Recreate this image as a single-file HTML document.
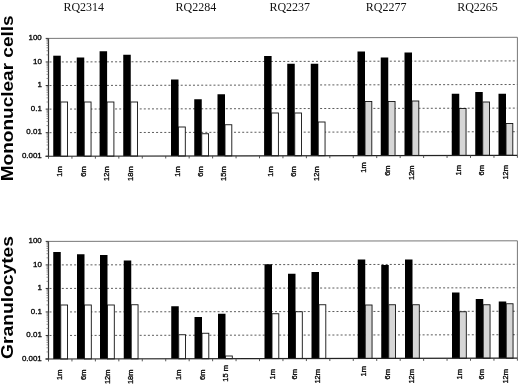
<!DOCTYPE html>
<html lang="en"><head><meta charset="utf-8"><title>Chart</title>
<style>
html,body{margin:0;padding:0;background:#fff}
body{width:520px;height:384px;overflow:hidden}
svg{display:block}
.t{font-family:"Liberation Serif",serif;font-size:12px;fill:#111}
.a{font-family:"Liberation Sans",sans-serif;font-size:7.5px;fill:#000;stroke:#000;stroke-width:0.3px}
.y{font-family:"Liberation Sans",sans-serif;font-weight:bold;font-size:16.5px;fill:#000}
</style></head><body>
<svg width="520" height="384" viewBox="0 0 520 384">
<rect width="520" height="384" fill="#fff"/>
<text class="t" x="83.8" y="10.5" text-anchor="middle">RQ2314</text>
<text class="t" x="195.9" y="10.5" text-anchor="middle">RQ2284</text>
<text class="t" x="289.8" y="10.5" text-anchor="middle">RQ2237</text>
<text class="t" x="386.1" y="10.5" text-anchor="middle">RQ2277</text>
<text class="t" x="477.5" y="10.5" text-anchor="middle">RQ2265</text>
<line x1="49.5" y1="61.97" x2="517.4" y2="60.90" stroke="#4a4a4a" stroke-width="0.9" stroke-dasharray="2 2.1"/>
<line x1="49.5" y1="85.54" x2="517.4" y2="84.50" stroke="#4a4a4a" stroke-width="0.9" stroke-dasharray="2 2.1"/>
<line x1="49.5" y1="109.11" x2="517.4" y2="108.10" stroke="#4a4a4a" stroke-width="0.9" stroke-dasharray="2 2.1"/>
<line x1="49.5" y1="132.68" x2="517.4" y2="131.70" stroke="#4a4a4a" stroke-width="0.9" stroke-dasharray="2 2.1"/>
<polyline points="48.5,38.4 517.4,37.3 517.4,155.3" fill="none" stroke="#777" stroke-width="1"/>
<rect x="53.25" y="55.70" width="7.5" height="100.53" fill="#000"/>
<rect x="60.75" y="102.00" width="6.8" height="54.23" fill="#fff" stroke="#111" stroke-width="0.9"/>
<rect x="76.75" y="57.50" width="7.5" height="98.68" fill="#000"/>
<rect x="84.25" y="102.00" width="6.8" height="54.18" fill="#fff" stroke="#111" stroke-width="0.9"/>
<rect x="99.60" y="51.25" width="7.5" height="104.88" fill="#000"/>
<rect x="107.10" y="102.00" width="6.8" height="54.13" fill="#fff" stroke="#111" stroke-width="0.9"/>
<rect x="123.25" y="54.75" width="7.5" height="101.33" fill="#000"/>
<rect x="130.75" y="102.00" width="6.8" height="54.08" fill="#fff" stroke="#111" stroke-width="0.9"/>
<rect x="171.00" y="79.50" width="7.5" height="76.49" fill="#000"/>
<rect x="178.50" y="127.00" width="6.8" height="28.99" fill="#fff" stroke="#111" stroke-width="0.9"/>
<rect x="194.25" y="99.25" width="7.5" height="56.69" fill="#000"/>
<rect x="201.75" y="133.75" width="6.8" height="22.19" fill="#fff" stroke="#111" stroke-width="0.9"/>
<rect x="217.50" y="94.25" width="7.5" height="61.64" fill="#000"/>
<rect x="225.00" y="124.75" width="6.8" height="31.14" fill="#fff" stroke="#111" stroke-width="0.9"/>
<rect x="264.10" y="56.00" width="7.5" height="99.80" fill="#000"/>
<rect x="271.60" y="113.00" width="6.8" height="42.80" fill="#fff" stroke="#111" stroke-width="0.9"/>
<rect x="287.25" y="63.75" width="7.5" height="92.00" fill="#000"/>
<rect x="294.75" y="113.00" width="6.8" height="42.75" fill="#fff" stroke="#111" stroke-width="0.9"/>
<rect x="310.75" y="63.75" width="7.5" height="91.95" fill="#000"/>
<rect x="318.25" y="122.00" width="6.8" height="33.70" fill="#fff" stroke="#111" stroke-width="0.9"/>
<rect x="357.50" y="51.50" width="7.5" height="104.11" fill="#000"/>
<rect x="365.00" y="101.50" width="6.8" height="54.11" fill="#d6d6d6" stroke="#111" stroke-width="0.9"/>
<rect x="380.75" y="57.50" width="7.5" height="98.06" fill="#000"/>
<rect x="388.25" y="101.50" width="6.8" height="54.06" fill="#d6d6d6" stroke="#111" stroke-width="0.9"/>
<rect x="404.50" y="52.50" width="7.5" height="103.01" fill="#000"/>
<rect x="412.00" y="101.00" width="6.8" height="54.51" fill="#d6d6d6" stroke="#111" stroke-width="0.9"/>
<rect x="451.75" y="93.75" width="7.5" height="61.67" fill="#000"/>
<rect x="459.25" y="108.50" width="6.8" height="46.92" fill="#d6d6d6" stroke="#111" stroke-width="0.9"/>
<rect x="475.25" y="92.00" width="7.5" height="63.37" fill="#000"/>
<rect x="482.75" y="102.00" width="6.8" height="53.37" fill="#d6d6d6" stroke="#111" stroke-width="0.9"/>
<rect x="498.50" y="93.75" width="7.5" height="61.57" fill="#000"/>
<rect x="506.00" y="123.50" width="6.8" height="31.82" fill="#d6d6d6" stroke="#111" stroke-width="0.9"/>
<line x1="45.5" y1="156.25" x2="517.4" y2="155.3" stroke="#222" stroke-width="1.2"/>
<line x1="48.5" y1="38.4" x2="48.5" y2="156.75" stroke="#333" stroke-width="1.2"/>
<line x1="45.7" y1="38.40" x2="48.5" y2="38.40" stroke="#333" stroke-width="1"/>
<text class="a" transform="translate(41.8,40.15) scale(1.06,1)" text-anchor="end">100</text>
<line x1="46.5" y1="54.87" x2="48.5" y2="54.87" stroke="#666" stroke-width="0.7"/>
<line x1="46.5" y1="50.72" x2="48.5" y2="50.72" stroke="#666" stroke-width="0.7"/>
<line x1="46.5" y1="47.78" x2="48.5" y2="47.78" stroke="#666" stroke-width="0.7"/>
<line x1="46.5" y1="45.50" x2="48.5" y2="45.50" stroke="#666" stroke-width="0.7"/>
<line x1="46.5" y1="43.63" x2="48.5" y2="43.63" stroke="#666" stroke-width="0.7"/>
<line x1="46.5" y1="42.05" x2="48.5" y2="42.05" stroke="#666" stroke-width="0.7"/>
<line x1="46.5" y1="40.68" x2="48.5" y2="40.68" stroke="#666" stroke-width="0.7"/>
<line x1="46.5" y1="39.48" x2="48.5" y2="39.48" stroke="#666" stroke-width="0.7"/>
<line x1="45.7" y1="61.97" x2="48.5" y2="61.97" stroke="#333" stroke-width="1"/>
<text class="a" transform="translate(41.8,63.72) scale(1.06,1)" text-anchor="end">10</text>
<line x1="46.5" y1="78.44" x2="48.5" y2="78.44" stroke="#666" stroke-width="0.7"/>
<line x1="46.5" y1="74.29" x2="48.5" y2="74.29" stroke="#666" stroke-width="0.7"/>
<line x1="46.5" y1="71.35" x2="48.5" y2="71.35" stroke="#666" stroke-width="0.7"/>
<line x1="46.5" y1="69.07" x2="48.5" y2="69.07" stroke="#666" stroke-width="0.7"/>
<line x1="46.5" y1="67.20" x2="48.5" y2="67.20" stroke="#666" stroke-width="0.7"/>
<line x1="46.5" y1="65.62" x2="48.5" y2="65.62" stroke="#666" stroke-width="0.7"/>
<line x1="46.5" y1="64.25" x2="48.5" y2="64.25" stroke="#666" stroke-width="0.7"/>
<line x1="46.5" y1="63.05" x2="48.5" y2="63.05" stroke="#666" stroke-width="0.7"/>
<line x1="45.7" y1="85.54" x2="48.5" y2="85.54" stroke="#333" stroke-width="1"/>
<text class="a" transform="translate(41.8,87.29) scale(1.06,1)" text-anchor="end">1</text>
<line x1="46.5" y1="102.01" x2="48.5" y2="102.01" stroke="#666" stroke-width="0.7"/>
<line x1="46.5" y1="97.86" x2="48.5" y2="97.86" stroke="#666" stroke-width="0.7"/>
<line x1="46.5" y1="94.92" x2="48.5" y2="94.92" stroke="#666" stroke-width="0.7"/>
<line x1="46.5" y1="92.64" x2="48.5" y2="92.64" stroke="#666" stroke-width="0.7"/>
<line x1="46.5" y1="90.77" x2="48.5" y2="90.77" stroke="#666" stroke-width="0.7"/>
<line x1="46.5" y1="89.19" x2="48.5" y2="89.19" stroke="#666" stroke-width="0.7"/>
<line x1="46.5" y1="87.82" x2="48.5" y2="87.82" stroke="#666" stroke-width="0.7"/>
<line x1="46.5" y1="86.62" x2="48.5" y2="86.62" stroke="#666" stroke-width="0.7"/>
<line x1="45.7" y1="109.11" x2="48.5" y2="109.11" stroke="#333" stroke-width="1"/>
<text class="a" transform="translate(41.8,110.86) scale(1.06,1)" text-anchor="end">0.1</text>
<line x1="46.5" y1="125.58" x2="48.5" y2="125.58" stroke="#666" stroke-width="0.7"/>
<line x1="46.5" y1="121.43" x2="48.5" y2="121.43" stroke="#666" stroke-width="0.7"/>
<line x1="46.5" y1="118.49" x2="48.5" y2="118.49" stroke="#666" stroke-width="0.7"/>
<line x1="46.5" y1="116.21" x2="48.5" y2="116.21" stroke="#666" stroke-width="0.7"/>
<line x1="46.5" y1="114.34" x2="48.5" y2="114.34" stroke="#666" stroke-width="0.7"/>
<line x1="46.5" y1="112.76" x2="48.5" y2="112.76" stroke="#666" stroke-width="0.7"/>
<line x1="46.5" y1="111.39" x2="48.5" y2="111.39" stroke="#666" stroke-width="0.7"/>
<line x1="46.5" y1="110.19" x2="48.5" y2="110.19" stroke="#666" stroke-width="0.7"/>
<line x1="45.7" y1="132.68" x2="48.5" y2="132.68" stroke="#333" stroke-width="1"/>
<text class="a" transform="translate(41.8,134.43) scale(1.06,1)" text-anchor="end">0.01</text>
<line x1="46.5" y1="149.15" x2="48.5" y2="149.15" stroke="#666" stroke-width="0.7"/>
<line x1="46.5" y1="145.00" x2="48.5" y2="145.00" stroke="#666" stroke-width="0.7"/>
<line x1="46.5" y1="142.06" x2="48.5" y2="142.06" stroke="#666" stroke-width="0.7"/>
<line x1="46.5" y1="139.78" x2="48.5" y2="139.78" stroke="#666" stroke-width="0.7"/>
<line x1="46.5" y1="137.91" x2="48.5" y2="137.91" stroke="#666" stroke-width="0.7"/>
<line x1="46.5" y1="136.33" x2="48.5" y2="136.33" stroke="#666" stroke-width="0.7"/>
<line x1="46.5" y1="134.96" x2="48.5" y2="134.96" stroke="#666" stroke-width="0.7"/>
<line x1="46.5" y1="133.76" x2="48.5" y2="133.76" stroke="#666" stroke-width="0.7"/>
<line x1="45.7" y1="156.25" x2="48.5" y2="156.25" stroke="#333" stroke-width="1"/>
<text class="a" transform="translate(41.8,158.00) scale(1.06,1)" text-anchor="end">0.001</text>
<line x1="48.50" y1="156.25" x2="48.50" y2="158.75" stroke="#444" stroke-width="0.9"/>
<line x1="71.94" y1="156.20" x2="71.94" y2="158.70" stroke="#444" stroke-width="0.9"/>
<line x1="95.39" y1="156.16" x2="95.39" y2="158.66" stroke="#444" stroke-width="0.9"/>
<line x1="118.83" y1="156.11" x2="118.83" y2="158.61" stroke="#444" stroke-width="0.9"/>
<line x1="142.28" y1="156.06" x2="142.28" y2="158.56" stroke="#444" stroke-width="0.9"/>
<line x1="165.72" y1="156.01" x2="165.72" y2="158.51" stroke="#444" stroke-width="0.9"/>
<line x1="189.17" y1="155.97" x2="189.17" y2="158.47" stroke="#444" stroke-width="0.9"/>
<line x1="212.61" y1="155.92" x2="212.61" y2="158.42" stroke="#444" stroke-width="0.9"/>
<line x1="236.06" y1="155.87" x2="236.06" y2="158.37" stroke="#444" stroke-width="0.9"/>
<line x1="259.50" y1="155.82" x2="259.50" y2="158.32" stroke="#444" stroke-width="0.9"/>
<line x1="282.95" y1="155.78" x2="282.95" y2="158.28" stroke="#444" stroke-width="0.9"/>
<line x1="306.39" y1="155.73" x2="306.39" y2="158.23" stroke="#444" stroke-width="0.9"/>
<line x1="329.84" y1="155.68" x2="329.84" y2="158.18" stroke="#444" stroke-width="0.9"/>
<line x1="353.28" y1="155.63" x2="353.28" y2="158.13" stroke="#444" stroke-width="0.9"/>
<line x1="376.73" y1="155.59" x2="376.73" y2="158.09" stroke="#444" stroke-width="0.9"/>
<line x1="400.18" y1="155.54" x2="400.18" y2="158.04" stroke="#444" stroke-width="0.9"/>
<line x1="423.62" y1="155.49" x2="423.62" y2="157.99" stroke="#444" stroke-width="0.9"/>
<line x1="447.06" y1="155.44" x2="447.06" y2="157.94" stroke="#444" stroke-width="0.9"/>
<line x1="470.51" y1="155.40" x2="470.51" y2="157.90" stroke="#444" stroke-width="0.9"/>
<line x1="493.96" y1="155.35" x2="493.96" y2="157.85" stroke="#444" stroke-width="0.9"/>
<line x1="517.40" y1="155.30" x2="517.40" y2="157.80" stroke="#444" stroke-width="0.9"/>
<text class="a" transform="translate(62.0,166.3) rotate(-90)" text-anchor="end">1m</text>
<text class="a" transform="translate(85.5,166.3) rotate(-90)" text-anchor="end">6m</text>
<text class="a" transform="translate(109.3,166.3) rotate(-90)" text-anchor="end">12m</text>
<text class="a" transform="translate(132.5,166.3) rotate(-90)" text-anchor="end">18m</text>
<text class="a" transform="translate(180.0,166.3) rotate(-90)" text-anchor="end">1m</text>
<text class="a" transform="translate(203.3,166.3) rotate(-90)" text-anchor="end">6m</text>
<text class="a" transform="translate(226.3,166.3) rotate(-90)" text-anchor="end">15m</text>
<text class="a" transform="translate(272.7,166.3) rotate(-90)" text-anchor="end">1m</text>
<text class="a" transform="translate(295.6,166.3) rotate(-90)" text-anchor="end">6m</text>
<text class="a" transform="translate(319.4,166.3) rotate(-90)" text-anchor="end">12m</text>
<text class="a" transform="translate(365.8,162.3) rotate(-90)" text-anchor="end">1m</text>
<text class="a" transform="translate(390.2,165.4) rotate(-90)" text-anchor="end">6m</text>
<text class="a" transform="translate(413.5,165.4) rotate(-90)" text-anchor="end">12m</text>
<text class="a" transform="translate(460.5,165.0) rotate(-90)" text-anchor="end">1m</text>
<text class="a" transform="translate(484.3,165.0) rotate(-90)" text-anchor="end">6m</text>
<text class="a" transform="translate(508.2,165.0) rotate(-90)" text-anchor="end">12m</text>
<line x1="49.5" y1="264.92" x2="517.4" y2="264.28" stroke="#4a4a4a" stroke-width="0.9" stroke-dasharray="2 2.1"/>
<line x1="49.5" y1="288.44" x2="517.4" y2="287.76" stroke="#4a4a4a" stroke-width="0.9" stroke-dasharray="2 2.1"/>
<line x1="49.5" y1="311.96" x2="517.4" y2="311.24" stroke="#4a4a4a" stroke-width="0.9" stroke-dasharray="2 2.1"/>
<line x1="49.5" y1="335.48" x2="517.4" y2="334.72" stroke="#4a4a4a" stroke-width="0.9" stroke-dasharray="2 2.1"/>
<polyline points="48.5,241.4 517.4,240.8 517.4,358.2" fill="none" stroke="#777" stroke-width="1"/>
<rect x="53.25" y="252.00" width="7.5" height="106.98" fill="#000"/>
<rect x="60.75" y="305.00" width="6.8" height="53.98" fill="#fff" stroke="#111" stroke-width="0.9"/>
<rect x="77.00" y="254.25" width="7.5" height="104.69" fill="#000"/>
<rect x="84.50" y="305.00" width="6.8" height="53.94" fill="#fff" stroke="#111" stroke-width="0.9"/>
<rect x="100.00" y="255.00" width="7.5" height="103.90" fill="#000"/>
<rect x="107.50" y="305.00" width="6.8" height="53.90" fill="#fff" stroke="#111" stroke-width="0.9"/>
<rect x="123.75" y="260.50" width="7.5" height="98.36" fill="#000"/>
<rect x="131.25" y="304.75" width="6.8" height="54.11" fill="#fff" stroke="#111" stroke-width="0.9"/>
<rect x="171.25" y="306.25" width="7.5" height="52.53" fill="#000"/>
<rect x="178.75" y="334.75" width="6.8" height="24.03" fill="#fff" stroke="#111" stroke-width="0.9"/>
<rect x="194.50" y="317.00" width="7.5" height="41.74" fill="#000"/>
<rect x="202.00" y="333.25" width="6.8" height="25.49" fill="#fff" stroke="#111" stroke-width="0.9"/>
<rect x="218.00" y="313.75" width="7.5" height="44.95" fill="#000"/>
<rect x="225.50" y="356.00" width="6.8" height="2.70" fill="#fff" stroke="#111" stroke-width="0.9"/>
<rect x="264.50" y="264.25" width="7.5" height="94.37" fill="#000"/>
<rect x="272.00" y="313.75" width="6.8" height="44.87" fill="#fff" stroke="#111" stroke-width="0.9"/>
<rect x="288.00" y="273.75" width="7.5" height="84.83" fill="#000"/>
<rect x="295.50" y="311.75" width="6.8" height="46.83" fill="#fff" stroke="#111" stroke-width="0.9"/>
<rect x="311.50" y="272.00" width="7.5" height="86.54" fill="#000"/>
<rect x="319.00" y="304.75" width="6.8" height="53.79" fill="#fff" stroke="#111" stroke-width="0.9"/>
<rect x="357.75" y="259.50" width="7.5" height="98.96" fill="#000"/>
<rect x="365.25" y="305.00" width="6.8" height="53.46" fill="#d6d6d6" stroke="#111" stroke-width="0.9"/>
<rect x="381.25" y="265.00" width="7.5" height="93.42" fill="#000"/>
<rect x="388.75" y="304.75" width="6.8" height="53.67" fill="#d6d6d6" stroke="#111" stroke-width="0.9"/>
<rect x="405.00" y="259.50" width="7.5" height="98.88" fill="#000"/>
<rect x="412.50" y="304.75" width="6.8" height="53.63" fill="#d6d6d6" stroke="#111" stroke-width="0.9"/>
<rect x="452.00" y="292.50" width="7.5" height="65.80" fill="#000"/>
<rect x="459.50" y="311.75" width="6.8" height="46.55" fill="#d6d6d6" stroke="#111" stroke-width="0.9"/>
<rect x="475.75" y="299.00" width="7.5" height="59.26" fill="#000"/>
<rect x="483.25" y="304.75" width="6.8" height="53.51" fill="#d6d6d6" stroke="#111" stroke-width="0.9"/>
<rect x="498.75" y="301.50" width="7.5" height="56.72" fill="#000"/>
<rect x="506.25" y="303.75" width="6.8" height="54.47" fill="#d6d6d6" stroke="#111" stroke-width="0.9"/>
<line x1="45.5" y1="359" x2="517.4" y2="358.2" stroke="#222" stroke-width="1.2"/>
<line x1="48.5" y1="241.4" x2="48.5" y2="359.5" stroke="#333" stroke-width="1.2"/>
<line x1="45.7" y1="241.40" x2="48.5" y2="241.40" stroke="#333" stroke-width="1"/>
<text class="a" transform="translate(41.8,243.15) scale(1.06,1)" text-anchor="end">100</text>
<line x1="46.5" y1="257.84" x2="48.5" y2="257.84" stroke="#666" stroke-width="0.7"/>
<line x1="46.5" y1="253.70" x2="48.5" y2="253.70" stroke="#666" stroke-width="0.7"/>
<line x1="46.5" y1="250.76" x2="48.5" y2="250.76" stroke="#666" stroke-width="0.7"/>
<line x1="46.5" y1="248.48" x2="48.5" y2="248.48" stroke="#666" stroke-width="0.7"/>
<line x1="46.5" y1="246.62" x2="48.5" y2="246.62" stroke="#666" stroke-width="0.7"/>
<line x1="46.5" y1="245.04" x2="48.5" y2="245.04" stroke="#666" stroke-width="0.7"/>
<line x1="46.5" y1="243.68" x2="48.5" y2="243.68" stroke="#666" stroke-width="0.7"/>
<line x1="46.5" y1="242.48" x2="48.5" y2="242.48" stroke="#666" stroke-width="0.7"/>
<line x1="45.7" y1="264.92" x2="48.5" y2="264.92" stroke="#333" stroke-width="1"/>
<text class="a" transform="translate(41.8,266.67) scale(1.06,1)" text-anchor="end">10</text>
<line x1="46.5" y1="281.36" x2="48.5" y2="281.36" stroke="#666" stroke-width="0.7"/>
<line x1="46.5" y1="277.22" x2="48.5" y2="277.22" stroke="#666" stroke-width="0.7"/>
<line x1="46.5" y1="274.28" x2="48.5" y2="274.28" stroke="#666" stroke-width="0.7"/>
<line x1="46.5" y1="272.00" x2="48.5" y2="272.00" stroke="#666" stroke-width="0.7"/>
<line x1="46.5" y1="270.14" x2="48.5" y2="270.14" stroke="#666" stroke-width="0.7"/>
<line x1="46.5" y1="268.56" x2="48.5" y2="268.56" stroke="#666" stroke-width="0.7"/>
<line x1="46.5" y1="267.20" x2="48.5" y2="267.20" stroke="#666" stroke-width="0.7"/>
<line x1="46.5" y1="266.00" x2="48.5" y2="266.00" stroke="#666" stroke-width="0.7"/>
<line x1="45.7" y1="288.44" x2="48.5" y2="288.44" stroke="#333" stroke-width="1"/>
<text class="a" transform="translate(41.8,290.19) scale(1.06,1)" text-anchor="end">1</text>
<line x1="46.5" y1="304.88" x2="48.5" y2="304.88" stroke="#666" stroke-width="0.7"/>
<line x1="46.5" y1="300.74" x2="48.5" y2="300.74" stroke="#666" stroke-width="0.7"/>
<line x1="46.5" y1="297.80" x2="48.5" y2="297.80" stroke="#666" stroke-width="0.7"/>
<line x1="46.5" y1="295.52" x2="48.5" y2="295.52" stroke="#666" stroke-width="0.7"/>
<line x1="46.5" y1="293.66" x2="48.5" y2="293.66" stroke="#666" stroke-width="0.7"/>
<line x1="46.5" y1="292.08" x2="48.5" y2="292.08" stroke="#666" stroke-width="0.7"/>
<line x1="46.5" y1="290.72" x2="48.5" y2="290.72" stroke="#666" stroke-width="0.7"/>
<line x1="46.5" y1="289.52" x2="48.5" y2="289.52" stroke="#666" stroke-width="0.7"/>
<line x1="45.7" y1="311.96" x2="48.5" y2="311.96" stroke="#333" stroke-width="1"/>
<text class="a" transform="translate(41.8,313.71) scale(1.06,1)" text-anchor="end">0.1</text>
<line x1="46.5" y1="328.40" x2="48.5" y2="328.40" stroke="#666" stroke-width="0.7"/>
<line x1="46.5" y1="324.26" x2="48.5" y2="324.26" stroke="#666" stroke-width="0.7"/>
<line x1="46.5" y1="321.32" x2="48.5" y2="321.32" stroke="#666" stroke-width="0.7"/>
<line x1="46.5" y1="319.04" x2="48.5" y2="319.04" stroke="#666" stroke-width="0.7"/>
<line x1="46.5" y1="317.18" x2="48.5" y2="317.18" stroke="#666" stroke-width="0.7"/>
<line x1="46.5" y1="315.60" x2="48.5" y2="315.60" stroke="#666" stroke-width="0.7"/>
<line x1="46.5" y1="314.24" x2="48.5" y2="314.24" stroke="#666" stroke-width="0.7"/>
<line x1="46.5" y1="313.04" x2="48.5" y2="313.04" stroke="#666" stroke-width="0.7"/>
<line x1="45.7" y1="335.48" x2="48.5" y2="335.48" stroke="#333" stroke-width="1"/>
<text class="a" transform="translate(41.8,337.23) scale(1.06,1)" text-anchor="end">0.01</text>
<line x1="46.5" y1="351.92" x2="48.5" y2="351.92" stroke="#666" stroke-width="0.7"/>
<line x1="46.5" y1="347.78" x2="48.5" y2="347.78" stroke="#666" stroke-width="0.7"/>
<line x1="46.5" y1="344.84" x2="48.5" y2="344.84" stroke="#666" stroke-width="0.7"/>
<line x1="46.5" y1="342.56" x2="48.5" y2="342.56" stroke="#666" stroke-width="0.7"/>
<line x1="46.5" y1="340.70" x2="48.5" y2="340.70" stroke="#666" stroke-width="0.7"/>
<line x1="46.5" y1="339.12" x2="48.5" y2="339.12" stroke="#666" stroke-width="0.7"/>
<line x1="46.5" y1="337.76" x2="48.5" y2="337.76" stroke="#666" stroke-width="0.7"/>
<line x1="46.5" y1="336.56" x2="48.5" y2="336.56" stroke="#666" stroke-width="0.7"/>
<line x1="45.7" y1="359.00" x2="48.5" y2="359.00" stroke="#333" stroke-width="1"/>
<text class="a" transform="translate(41.8,360.75) scale(1.06,1)" text-anchor="end">0.001</text>
<line x1="48.50" y1="359.00" x2="48.50" y2="361.50" stroke="#444" stroke-width="0.9"/>
<line x1="71.94" y1="358.96" x2="71.94" y2="361.46" stroke="#444" stroke-width="0.9"/>
<line x1="95.39" y1="358.92" x2="95.39" y2="361.42" stroke="#444" stroke-width="0.9"/>
<line x1="118.83" y1="358.88" x2="118.83" y2="361.38" stroke="#444" stroke-width="0.9"/>
<line x1="142.28" y1="358.84" x2="142.28" y2="361.34" stroke="#444" stroke-width="0.9"/>
<line x1="165.72" y1="358.80" x2="165.72" y2="361.30" stroke="#444" stroke-width="0.9"/>
<line x1="189.17" y1="358.76" x2="189.17" y2="361.26" stroke="#444" stroke-width="0.9"/>
<line x1="212.61" y1="358.72" x2="212.61" y2="361.22" stroke="#444" stroke-width="0.9"/>
<line x1="236.06" y1="358.68" x2="236.06" y2="361.18" stroke="#444" stroke-width="0.9"/>
<line x1="259.50" y1="358.64" x2="259.50" y2="361.14" stroke="#444" stroke-width="0.9"/>
<line x1="282.95" y1="358.60" x2="282.95" y2="361.10" stroke="#444" stroke-width="0.9"/>
<line x1="306.39" y1="358.56" x2="306.39" y2="361.06" stroke="#444" stroke-width="0.9"/>
<line x1="329.84" y1="358.52" x2="329.84" y2="361.02" stroke="#444" stroke-width="0.9"/>
<line x1="353.28" y1="358.48" x2="353.28" y2="360.98" stroke="#444" stroke-width="0.9"/>
<line x1="376.73" y1="358.44" x2="376.73" y2="360.94" stroke="#444" stroke-width="0.9"/>
<line x1="400.18" y1="358.40" x2="400.18" y2="360.90" stroke="#444" stroke-width="0.9"/>
<line x1="423.62" y1="358.36" x2="423.62" y2="360.86" stroke="#444" stroke-width="0.9"/>
<line x1="447.06" y1="358.32" x2="447.06" y2="360.82" stroke="#444" stroke-width="0.9"/>
<line x1="470.51" y1="358.28" x2="470.51" y2="360.78" stroke="#444" stroke-width="0.9"/>
<line x1="493.96" y1="358.24" x2="493.96" y2="360.74" stroke="#444" stroke-width="0.9"/>
<line x1="517.40" y1="358.20" x2="517.40" y2="360.70" stroke="#444" stroke-width="0.9"/>
<text class="a" transform="translate(62.0,369.5) rotate(-90)" text-anchor="end">1m</text>
<text class="a" transform="translate(85.5,369.5) rotate(-90)" text-anchor="end">6m</text>
<text class="a" transform="translate(109.5,369.5) rotate(-90)" text-anchor="end">12m</text>
<text class="a" transform="translate(132.8,369.5) rotate(-90)" text-anchor="end">18m</text>
<text class="a" transform="translate(181.2,369.5) rotate(-90)" text-anchor="end">1m</text>
<text class="a" transform="translate(204.5,369.5) rotate(-90)" text-anchor="end">6m</text>
<text class="a" transform="translate(227.5,365.0) rotate(-90)" text-anchor="end">15 m</text>
<text class="a" transform="translate(274.9,369.0) rotate(-90)" text-anchor="end">1m</text>
<text class="a" transform="translate(296.9,369.0) rotate(-90)" text-anchor="end">6m</text>
<text class="a" transform="translate(320.0,369.0) rotate(-90)" text-anchor="end">12m</text>
<text class="a" transform="translate(366.3,366.0) rotate(-90)" text-anchor="end">1m</text>
<text class="a" transform="translate(390.1,369.0) rotate(-90)" text-anchor="end">6m</text>
<text class="a" transform="translate(414.3,369.0) rotate(-90)" text-anchor="end">12m</text>
<text class="a" transform="translate(461.5,369.0) rotate(-90)" text-anchor="end">1m</text>
<text class="a" transform="translate(484.4,369.0) rotate(-90)" text-anchor="end">6m</text>
<text class="a" transform="translate(508.3,369.0) rotate(-90)" text-anchor="end">12m</text>
<text class="y" transform="translate(12.8,181.3) rotate(-90)" textLength="166" lengthAdjust="spacingAndGlyphs">Mononuclear cells</text>
<text class="y" transform="translate(12.8,359) rotate(-90)" textLength="123" lengthAdjust="spacingAndGlyphs">Granulocytes</text>
</svg>
</body></html>
